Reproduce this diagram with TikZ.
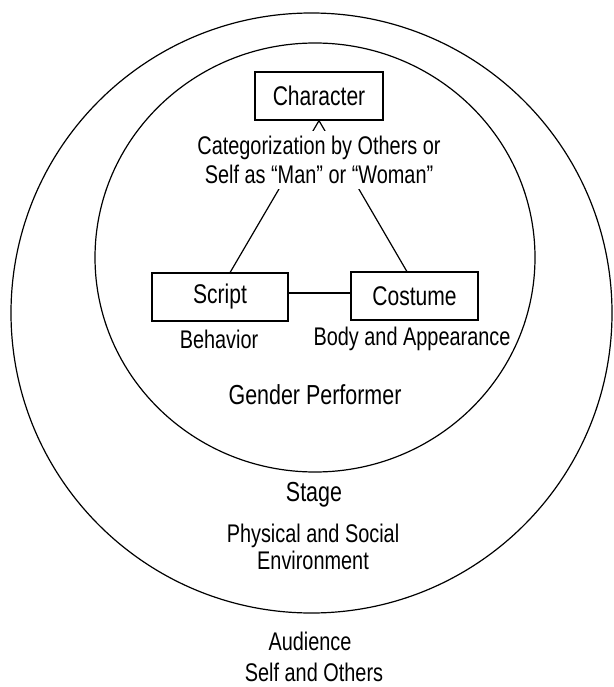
\documentclass[tikz,border=0pt]{standalone}
\usepackage{fontspec}
\setmainfont{Liberation Sans}[FakeStretch=0.78]
\usetikzlibrary{calc}
\begin{document}
\begin{tikzpicture}[x=1pt,y=-1pt, line width=1.2pt,
  box/.style={draw, line width=1.3pt, minimum height=48pt, inner sep=0pt, font=\fontsize{27}{30}\selectfont},
  lbl/.style={font=\fontsize{25.5}{29}\selectfont, inner sep=0pt, align=center},
  head/.style={font=\fontsize{27.5}{30}\selectfont, inner sep=0pt, align=center}]
\useasboundingbox (0,0) rectangle (613,687);
\draw (311.5,313) ellipse [x radius=300.5, y radius=300];
\draw (315,257.5) ellipse [x radius=220, y radius=214.5];
\node[box, minimum width=128pt] (char) at (319,96) {Character};
\node[box, minimum width=136pt] (script) at (220,297) {Script};
\node[box, minimum width=127pt] (cost) at (414.5,296) {Costume};
\coordinate (sTop) at ($(script.north west)!0.574!(script.north east)$);
\coordinate (cTop) at ($(cost.north west)!0.44!(cost.north east)$);
\draw (char.south) -- (sTop);
\draw (char.south) -- (cTop);
\coordinate (m1) at ($(script.east)+(0,-4)$);
\draw (m1) -- (m1 -| cost.west);
\node[lbl, fill=white, minimum height=57pt] (cat) at (319,160) {Categorization by Others or\\Self as “Man” or “Woman”};
\node[lbl] (beh) at (219,339) {Behavior};
\node[lbl] (body) at (412,339) {Body and Appearance};
\node[head] (gp) at (315,395) {Gender Performer};
\node[head] (stage) at (314,495) {Stage};
\node[lbl, font=\fontsize{25.5}{27}\selectfont] (phys) at (313,547) {Physical and Social\\Environment};
\node[lbl] (aud) at (310,641) {Audience};
\node[lbl] (self) at (314,672) {Self and Others};
\end{tikzpicture}
\end{document}
